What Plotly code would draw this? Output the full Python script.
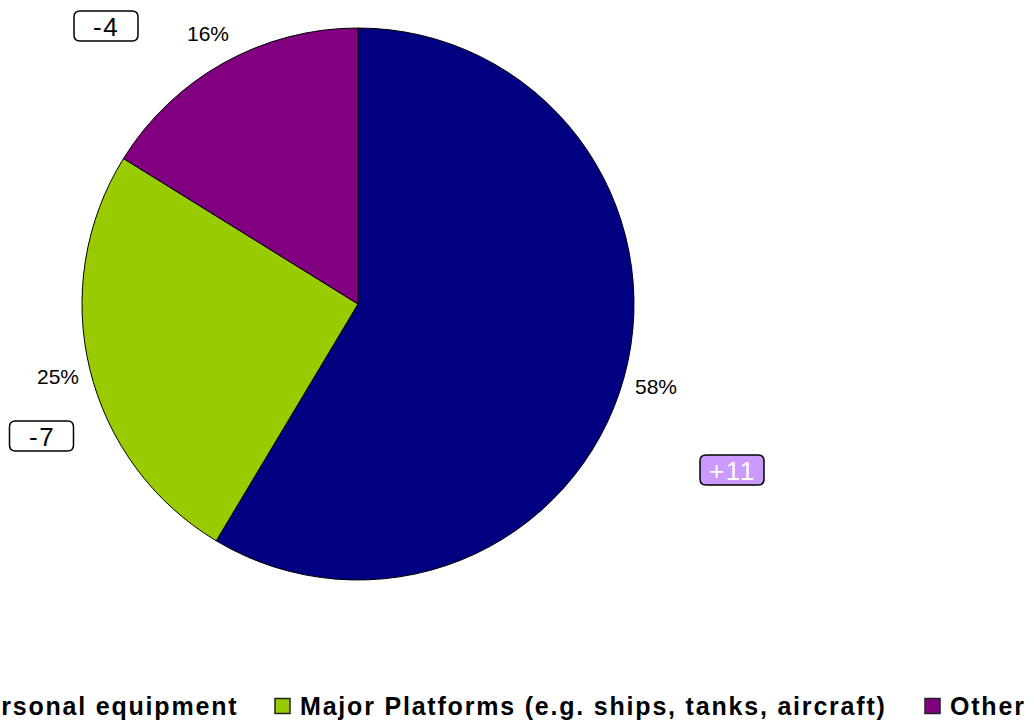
import math
import plotly.graph_objects as go

# Share of spending by category (percent) and change since previous period
categories = ["Personal equipment", "Major Platforms (e.g. ships, tanks, aircraft)", "Other"]
shares = [58, 25, 16]
changes = ["+11", "-7", "-4"]
colors = ["#000080", "#99CC00", "#800080"]

W, H = 1034, 723
CX, CY, R = 358, 304, 276  # pie centre and radius in pixels
FONT = "Liberation Sans, Arial, sans-serif"


def px(x):
    return x / W


def py(y):
    return 1 - y / H


def spaced(txt, ls):
    return f'<span style="letter-spacing:{ls}px">{txt}</span>'


fig = go.Figure()
fig.add_trace(go.Pie(
    values=shares,
    labels=categories,
    sort=False,
    direction="clockwise",
    rotation=0,
    marker=dict(colors=colors, line=dict(color="black", width=1)),
    textinfo="none",
    hoverinfo="label+percent",
    showlegend=False,
    domain=dict(x=[px(CX - R), px(CX + R)], y=[py(CY + R), py(CY - R)]),
))

annotations = []
shapes = []

# Percentage labels just outside each slice, at the slice's mid-angle
total = sum(shares)
cum = 0
for v in shares:
    mid = (cum + v / 2) / total * 2 * math.pi
    cum += v
    rl = R * 1.12
    lx = CX + rl * math.sin(mid)
    ly = CY - rl * math.cos(mid)
    annotations.append(dict(
        x=px(lx), y=py(ly), xref="paper", yref="paper",
        text=f"{v}%", showarrow=False,
        font=dict(family=FONT, size=21, color="black"),
        xanchor="center", yanchor="middle",
    ))

# Change call-outs in rounded boxes
box_centres = [(732, 470), (41.5, 436), (106, 26)]
box_fill = ["#CC99FF", "white", "white"]
box_text = ["white", "black", "black"]
BW, BH, RR = 64, 30, 6
for (bx, by), txt, fill, tc in zip(box_centres, changes, box_fill, box_text):
    x0, x1 = bx - BW / 2, bx + BW / 2
    y0, y1 = by - BH / 2, by + BH / 2
    path = (
        f"M {px(x0 + RR)},{py(y0)} L {px(x1 - RR)},{py(y0)} "
        f"Q {px(x1)},{py(y0)} {px(x1)},{py(y0 + RR)} "
        f"L {px(x1)},{py(y1 - RR)} Q {px(x1)},{py(y1)} {px(x1 - RR)},{py(y1)} "
        f"L {px(x0 + RR)},{py(y1)} Q {px(x0)},{py(y1)} {px(x0)},{py(y1 - RR)} "
        f"L {px(x0)},{py(y0 + RR)} Q {px(x0)},{py(y0)} {px(x0 + RR)},{py(y0)} Z"
    )
    shapes.append(dict(type="path", path=path, xref="paper", yref="paper",
                       fillcolor=fill, line=dict(color="black", width=1.5)))
    annotations.append(dict(
        x=px(bx), y=py(by + 1), xref="paper", yref="paper",
        text=spaced(txt, 1.5), showarrow=False,
        font=dict(family=FONT, size=26, color=tc),
        xanchor="center", yanchor="middle",
    ))

# Legend row along the bottom
LEG_Y = 706
SQ = 15
legend_text_right = [240, None, None]
legend_sq_left = [-55, 275, 925]
for cat, col, sq_left, tr in zip(categories, colors, legend_sq_left, legend_text_right):
    shapes.append(dict(type="rect", xref="paper", yref="paper",
                       x0=px(sq_left), x1=px(sq_left + SQ),
                       y0=py(LEG_Y + SQ / 2), y1=py(LEG_Y - SQ / 2),
                       fillcolor=col, line=dict(color="#222222", width=1.5)))
    label = f"<b>{spaced(cat, 1.8)}</b>"
    if tr is not None:
        annotations.append(dict(
            x=px(tr), y=py(LEG_Y), xref="paper", yref="paper",
            text=label, showarrow=False,
            font=dict(family=FONT, size=25, color="black"),
            xanchor="right", yanchor="middle",
        ))
    else:
        annotations.append(dict(
            x=px(sq_left + SQ + 8), y=py(LEG_Y), xref="paper", yref="paper",
            text=label, showarrow=False,
            font=dict(family=FONT, size=25, color="black"),
            xanchor="left", yanchor="middle",
        ))

fig.update_layout(
    width=W, height=H,
    margin=dict(l=0, r=0, t=0, b=0),
    paper_bgcolor="white", plot_bgcolor="white",
    annotations=annotations, shapes=shapes,
    showlegend=False,
)

fig.write_html("out.html")
